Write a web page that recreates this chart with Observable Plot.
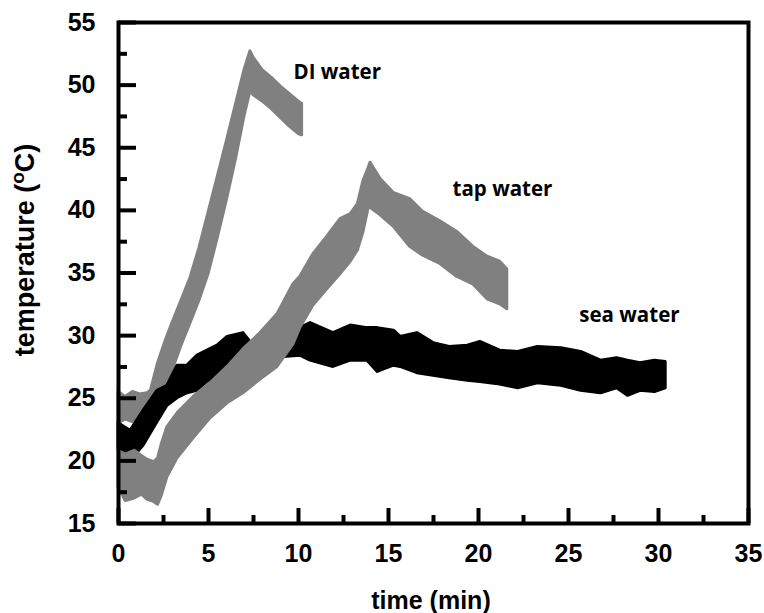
<!DOCTYPE html>
<html>
<head>
<meta charset="utf-8">
<script src="https://cdn.jsdelivr.net/npm/d3@7"></script>
<script src="https://cdn.jsdelivr.net/npm/@observablehq/plot@0.6"></script>
<style>
  html, body { margin: 0; padding: 0; background: #fff; }
</style>
</head>
<body>
<div id="chart"></div>
<script>
// ---- data (time in min, temperature band in °C) ----
const diTime = [0, 0.4, 0.8, 1.2, 1.6, 1.8, 2.2, 2.6, 3.0, 3.5, 4.0, 4.5, 5.0, 5.5, 6.0, 6.5, 7.0, 7.33, 7.5, 8.0, 8.5, 9.0, 9.5, 10.0, 10.2];
const diLow  = [23.0, 23.3, 23.1, 23.5, 23.4, 23.4, 23.7, 25.3, 27.2, 29.2, 31.0, 32.8, 34.9, 37.7, 40.7, 43.9, 47.5, 49.5, 49.2, 48.7, 48.1, 47.4, 46.7, 46.1, 46.0];
const diHigh = [25.5, 25.1, 25.5, 25.3, 25.4, 25.6, 27.8, 29.5, 31.0, 32.8, 34.6, 37.0, 39.8, 42.6, 45.4, 48.3, 51.2, 52.7, 52.2, 51.2, 50.6, 49.9, 49.3, 48.7, 48.5];

const tapTime = [0, 0.4, 0.9, 1.3, 1.6, 2.0, 2.2, 2.4, 2.72, 3.28, 4.17, 5.11, 6.06, 6.94, 7.89, 8.83, 9.72, 10.1, 10.83, 11.6, 12.33, 12.9, 13.3, 13.6, 13.9, 14.0, 14.56, 15.28, 16.2, 16.9, 17.9, 18.8, 19.7, 20.5, 21.2, 21.6];
const tapLow  = [17.9, 16.8, 17.0, 17.3, 16.9, 16.7, 16.5, 17.2, 18.7, 20.2, 21.8, 23.4, 24.6, 25.4, 26.5, 27.5, 29.3, 30.6, 32.4, 33.7, 34.9, 35.9, 36.8, 38.2, 40.2, 40.2, 39.6, 38.7, 37.1, 36.4, 35.7, 34.7, 34.1, 32.9, 32.5, 32.1];
const tapHigh = [20.8, 20.5, 20.8, 20.4, 20.1, 19.9, 20.2, 21.3, 22.7, 23.8, 25.1, 26.2, 27.5, 28.9, 30.2, 31.7, 34.1, 34.7, 36.5, 37.9, 39.3, 39.7, 40.5, 42.3, 43.4, 43.8, 42.5, 41.4, 40.9, 39.9, 39.1, 38.3, 37.1, 36.3, 35.9, 35.3];

const seaTime = [0, 0.67, 1.39, 2.17, 2.72, 3.28, 3.83, 4.39, 4.94, 5.5, 6.06, 6.94, 7.5, 8.28, 9.17, 10.1, 10.67, 11.94, 12.9, 13.83, 14.4, 15.3, 15.67, 16.6, 17.5, 18.4, 19.4, 20.1, 21.2, 22.2, 23.3, 24.6, 25.7, 26.8, 27.7, 28.3, 29.0, 29.8, 30.4];
const seaLow  = [20.9, 20.0, 21.2, 23.1, 24.4, 25.0, 25.4, 25.6, 26.3, 26.6, 26.8, 27.2, 27.2, 27.8, 28.3, 28.4, 28.0, 27.5, 28.0, 28.0, 27.1, 27.6, 27.5, 27.0, 26.8, 26.6, 26.4, 26.3, 26.1, 25.8, 26.2, 26.0, 25.6, 25.4, 25.8, 25.2, 25.6, 25.5, 25.8];
const seaHigh = [23.0, 22.4, 24.0, 25.6, 26.0, 27.6, 27.6, 28.4, 28.8, 29.2, 29.9, 30.2, 29.2, 29.6, 30.4, 30.6, 31.0, 30.2, 30.8, 30.6, 30.6, 30.4, 29.9, 30.2, 29.4, 29.1, 29.2, 29.5, 28.8, 28.7, 29.1, 29.0, 28.7, 28.0, 28.2, 28.0, 27.8, 28.0, 27.9];

const seriesNames = ["DI water", "tap water", "sea water"];
const labelTime = [9.72, 18.56, 25.6];
const labelTemp = [51.0, 41.7, 31.6];

const xMajor = [0, 5, 10, 15, 20, 25, 30, 35];
const xMinor = [2.5, 7.5, 12.5, 17.5, 22.5, 27.5, 32.5];
const yMajor = [15, 20, 25, 30, 35, 40, 45, 50, 55];
const yMinor = [17.5, 22.5, 27.5, 32.5, 37.5, 42.5, 47.5, 52.5];

// ---- build tables ----
const band = (t, lo, hi) => t.map((x, i) => ({t: x, lo: lo[i], hi: hi[i]}));
const di = band(diTime, diLow, diHigh);
const tap = band(tapTime, tapLow, tapHigh);
const sea = band(seaTime, seaLow, seaHigh);
const labels = seriesNames.map((name, i) => ({name, t: labelTime[i], T: labelTemp[i]}));

const GREY = "#808080";
const tickFont = "'Liberation Sans', Arial, sans-serif";

const chart = Plot.plot({
  width: 764,
  height: 613,
  marginLeft: 118,
  marginRight: 16,
  marginTop: 22,
  marginBottom: 90,
  x: {domain: [0, 35]},
  y: {domain: [15, 55]},
  style: {fontFamily: tickFont, background: "white", color: "black"},
  marks: [
    Plot.areaY(di, {x: "t", y1: "lo", y2: "hi", fill: GREY, stroke: GREY, strokeWidth: 3, strokeLinejoin: "round"}),
    Plot.areaY(sea, {x: "t", y1: "lo", y2: "hi", fill: "black", stroke: "black", strokeWidth: 3, strokeLinejoin: "round"}),
    Plot.areaY(tap, {x: "t", y1: "lo", y2: "hi", fill: GREY, stroke: GREY, strokeWidth: 3, strokeLinejoin: "round"}),
    Plot.frame({stroke: "black", strokeWidth: 4}),
    Plot.axisX({ticks: xMajor, tickSize: -15, strokeWidth: 4, tickFormat: () => "", label: null}),
    Plot.axisX({ticks: xMinor, tickSize: -8, strokeWidth: 4, tickFormat: () => "", label: null}),
    Plot.axisX({ticks: xMajor, tickSize: 0, tickPadding: 21, fontSize: 25, fontWeight: "bold", label: null}),
    Plot.axisY({ticks: yMajor, tickSize: -18, strokeWidth: 4, tickFormat: () => "", label: null}),
    Plot.axisY({ticks: yMinor, tickSize: -9, strokeWidth: 4, tickFormat: () => "", label: null}),
    Plot.axisY({ticks: yMajor, tickSize: 0, tickPadding: 23, fontSize: 25, fontWeight: "bold", label: null}),
    Plot.text(labels, {x: "t", y: "T", text: "name", textAnchor: "start", fontFamily: "'Open Sans', sans-serif", fontWeight: 700, fontSize: 20.5, fill: "black"})
  ]
});

document.getElementById("chart").appendChild(chart);

// axis titles
const svg = d3.select(chart);
svg.append("text")
  .attr("x", 431).attr("y", 609)
  .attr("text-anchor", "middle")
  .attr("font-family", tickFont).attr("font-weight", "bold").attr("font-size", 25)
  .attr("fill", "black")
  .text("time (min)");

const yt = svg.append("text")
  .attr("transform", "translate(34,250) rotate(-90)")
  .attr("text-anchor", "middle")
  .attr("font-family", tickFont).attr("font-weight", "bold").attr("font-size", 27)
  .attr("fill", "black");
yt.append("tspan").text("temperature (");
yt.append("tspan").attr("dy", -10).attr("font-size", 19).text("o");
yt.append("tspan").attr("dy", 10).text("C)");
</script>
</body>
</html>
